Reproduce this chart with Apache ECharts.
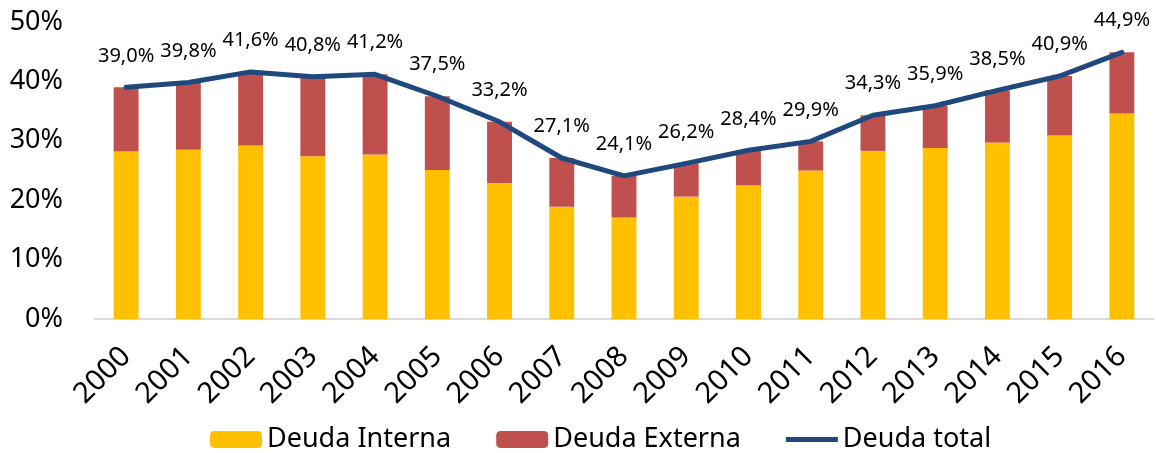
<!DOCTYPE html>
<html lang="es">
<head>
    <meta charset="UTF-8">
    <title>Deuda</title>
    <script src="https://cdn.jsdelivr.net/npm/echarts@6.0.0/dist/echarts.min.js"></script>
    <style>
        body { margin: 0; background: #ffffff; }
    </style>
</head>
<body>
    <div id="main" style="width: 1156px;height:453px;"></div>
    <script type="text/javascript">
        // data (% of GDP)
        let years = ['2000', '2001', '2002', '2003', '2004', '2005', '2006', '2007', '2008',
            '2009', '2010', '2011', '2012', '2013', '2014', '2015', '2016'];
        let interna = [28.2, 28.5, 29.2, 27.4, 27.7, 25.1, 22.9, 18.9, 17.1,
            20.6, 22.5, 25.0, 28.3, 28.8, 29.7, 30.9, 34.6];
        let externa = [10.8, 11.3, 12.4, 13.4, 13.5, 12.4, 10.3, 8.2, 7.0,
            5.6, 5.9, 4.9, 6.0, 7.1, 8.8, 10.0, 10.3];
        let total = [39.0, 39.8, 41.6, 40.8, 41.2, 37.5, 33.2, 27.1, 24.1,
            26.2, 28.4, 29.9, 34.3, 35.9, 38.5, 40.9, 44.9];
        let yTicks = [0, 10, 20, 30, 40, 50];

        let font = 'Noto Sans';

        let options = {
            animation: false,
            textStyle: { fontFamily: font },
            grid: { left: 95, right: 3, top: 22, bottom: 134, containLabel: false, outerBoundsMode: 'none' },
            legend: {
                left: 205,
                top: 421,
                itemWidth: 52,
                itemHeight: 17,
                itemGap: 45,
                textStyle: { fontSize: 27, color: '#000', fontFamily: font },
                data: [
                    { name: 'Deuda Interna' },
                    { name: 'Deuda Externa' },
                    { name: 'Deuda total', icon: 'path://M0,0 L52,0 L52,5 L0,5 Z' }
                ]
            },
            xAxis: {
                type: 'category',
                data: years,
                axisTick: { show: false },
                axisLine: { lineStyle: { color: '#D9D9D9', width: 2 } },
                axisLabel: { rotate: 45, fontSize: 29, color: '#000', margin: 33, interval: 0, fontFamily: font }
            },
            yAxis: {
                type: 'value',
                min: yTicks[0],
                max: yTicks[yTicks.length - 1],
                interval: 10,
                splitLine: { show: false },
                axisLine: { show: false },
                axisTick: { show: false },
                axisLabel: { fontSize: 27, color: '#000', margin: 32, formatter: '{value}%', fontFamily: font }
            },
            series: [
                {
                    name: 'Deuda Interna',
                    type: 'bar',
                    stack: 'deuda',
                    data: interna,
                    barWidth: '40%',
                    itemStyle: { color: '#FFC000' }
                },
                {
                    name: 'Deuda Externa',
                    type: 'bar',
                    stack: 'deuda',
                    data: externa,
                    itemStyle: { color: '#C0504D' }
                },
                {
                    name: 'Deuda total',
                    type: 'line',
                    data: total,
                    symbol: 'circle',
                    symbolSize: 3,
                    showSymbol: true,
                    lineStyle: { color: '#1F497D', width: 5, cap: 'round', join: 'round' },
                    itemStyle: { color: '#1F497D' },
                    z: 5,
                    label: {
                        show: true,
                        position: 'top',
                        distance: 20,
                        fontSize: 20,
                        color: '#000',
                        fontFamily: font,
                        formatter: (p) => p.value.toFixed(1).replace('.', ',') + '%'
                    }
                }
            ]
        };

        let myChart = echarts.init(document.getElementById('main'));
        myChart.setOption(options);
    </script>
</body>
</html>
